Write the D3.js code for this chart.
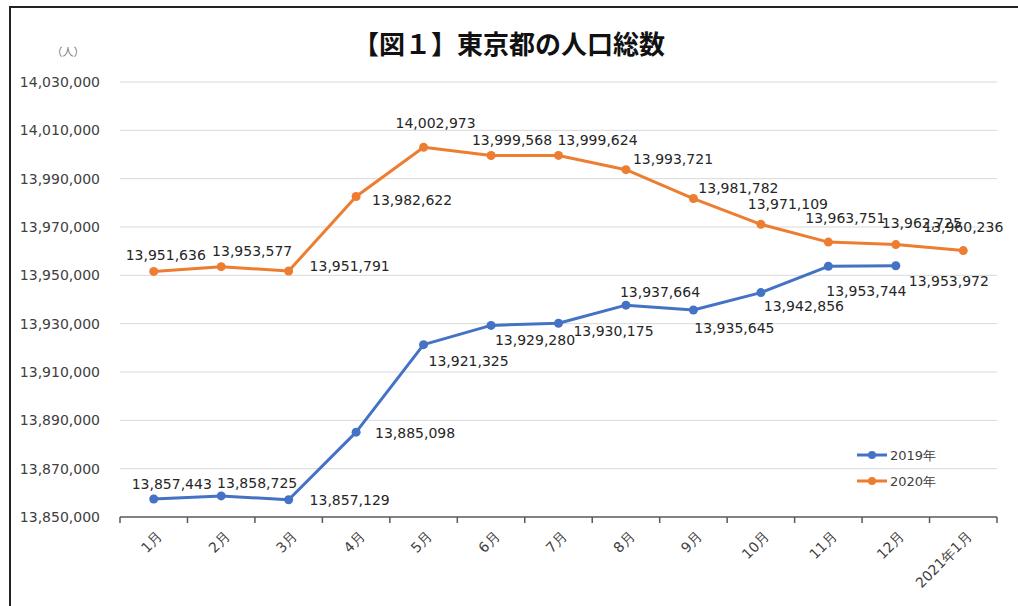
<!DOCTYPE html>
<html>
<head>
<meta charset="utf-8">
<script src="https://cdn.jsdelivr.net/npm/d3@7"></script>
<style>
  body { margin: 0; background: #fff; }
  svg { display: block; }
</style>
</head>
<body>
<svg id="chart" width="1018" height="606"></svg>
<script>
// categories and values
const months = ['1月', '2月', '3月', '4月', '5月', '6月', '7月', '8月', '9月', '10月', '11月', '12月', '2021年1月'];
const pop2019 = [13857443, 13858725, 13857129, 13885098, 13921325, 13929280, 13930175, 13937664, 13935645, 13942856, 13953744, 13953972];
const pop2020 = [13951636, 13953577, 13951791, 13982622, 14002973, 13999568, 13999624, 13993721, 13981782, 13971109, 13963751, 13962725, 13960236];
const yTicks = [13850000, 13870000, 13890000, 13910000, 13930000, 13950000, 13970000, 13990000, 14010000, 14030000];

// where each data label sits relative to its point (dx, dy of label centre)
const labelPos2019 = [[18, -15], [36, -13], [61, 0], [59, 1], [45, 16], [44, 15], [55, 8], [34, -13], [41, 18], [43, 14], [38, 25], [53, 15]];
const labelPos2020 = [[12, -16], [31, -16], [61, -5], [56, 4], [12, -24], [21, -15], [39, -15], [47, -11], [45, -10], [27, -20], [17, -24], [26, -21], [0, -23]];

const margin = { top: 82, right: 21, bottom: 89, left: 120 };
const W = 1018, H = 606;
const width = W - margin.left - margin.right;
const height = H - margin.top - margin.bottom;

const svg = d3.select('#chart');
const font = '"DejaVu Sans", Verdana, sans-serif';

// outer frame
svg.append('path')
  .attr('d', 'M10,606 L10,7 L1018,7')
  .attr('fill', 'none')
  .attr('stroke', '#222')
  .attr('stroke-width', 2);

svg.append('text')
  .attr('x', 509).attr('y', 54)
  .attr('text-anchor', 'middle')
  .style('font-family', '"Noto Sans CJK JP", sans-serif')
  .style('font-weight', 'bold')
  .style('font-size', '26px')
  .attr('fill', '#111')
  .text('【図１】東京都の人口総数');

svg.append('text')
  .attr('x', 68).attr('y', 56)
  .attr('text-anchor', 'middle')
  .style('font-family', '"Noto Sans CJK JP", sans-serif')
  .style('font-size', '11px')
  .attr('fill', '#777')
  .text('（人）');

const g = svg.append('g')
  .attr('transform', 'translate(' + margin.left + ',' + margin.top + ')');

const x = d3.scaleBand()
  .domain(months)
  .range([0, width]);

const y = d3.scaleLinear()
  .domain([13850000, 14030000])
  .range([height, 0]);

const fmt = d3.format(',');

// gridlines
g.append('g')
  .selectAll('line')
  .data(yTicks.slice(1))
  .enter().append('line')
  .attr('x1', 0).attr('x2', width)
  .attr('y1', function (d) { return y(d); })
  .attr('y2', function (d) { return y(d); })
  .attr('stroke', '#d9d9d9')
  .attr('stroke-width', 1);

// y axis labels (no line)
const yAxis = g.append('g')
  .call(d3.axisLeft(y).tickValues(yTicks).tickFormat(fmt).tickSize(0).tickPadding(20));
yAxis.select('.domain').remove();
yAxis.selectAll('text')
  .style('font-family', font)
  .style('font-size', '14px')
  .attr('fill', '#404040');

// x axis with ticks on band edges
const xg = g.append('g')
  .attr('transform', 'translate(0,' + height + ')');
xg.append('line')
  .attr('x1', 0).attr('x2', width)
  .attr('stroke', '#595959').attr('stroke-width', 1.5);
xg.selectAll('.tk')
  .data(months.concat(['end']))
  .enter().append('line')
  .attr('class', 'tk')
  .attr('x1', function (d, i) { return i * x.step(); })
  .attr('x2', function (d, i) { return i * x.step(); })
  .attr('y1', 0).attr('y2', 6)
  .attr('stroke', '#595959').attr('stroke-width', 1.5);
xg.selectAll('.lbl')
  .data(months)
  .enter().append('text')
  .attr('class', 'lbl')
  .attr('transform', function (d) { return 'translate(' + (x(d) + x.bandwidth() / 2 + 6) + ',17) rotate(-45)'; })
  .attr('text-anchor', 'end')
  .attr('dy', '0.35em')
  .style('font-family', font)
  .style('font-size', '14px')
  .attr('fill', '#404040')
  .text(function (d) { return d; });

const series = [
  { name: '2019年', values: pop2019, color: '#4472C4', pos: labelPos2019 },
  { name: '2020年', values: pop2020, color: '#ED7D31', pos: labelPos2020 }
];

const line = d3.line()
  .x(function (d, i) { return x(months[i]) + x.bandwidth() / 2; })
  .y(function (d) { return y(d); });

series.forEach(function (s) {
  g.append('path')
    .datum(s.values)
    .attr('fill', 'none')
    .attr('stroke', s.color)
    .attr('stroke-width', 3)
    .attr('stroke-linejoin', 'round')
    .attr('d', line);

  g.selectAll(null)
    .data(s.values)
    .enter().append('circle')
    .attr('cx', function (d, i) { return x(months[i]) + x.bandwidth() / 2; })
    .attr('cy', function (d) { return y(d); })
    .attr('r', 4.5)
    .attr('fill', s.color);

  g.selectAll(null)
    .data(s.values)
    .enter().append('text')
    .attr('x', function (d, i) { return x(months[i]) + x.bandwidth() / 2 + s.pos[i][0]; })
    .attr('y', function (d, i) { return y(d) + s.pos[i][1]; })
    .attr('text-anchor', 'middle')
    .attr('dy', '0.35em')
    .style('font-family', font)
    .style('font-size', '14px')
    .attr('fill', '#262626')
    .text(function (d) { return fmt(d); });
});

// legend
const legend = svg.append('g')
  .attr('transform', 'translate(857,455)');
series.forEach(function (s, i) {
  const row = legend.append('g').attr('transform', 'translate(0,' + (i * 26) + ')');
  row.append('line')
    .attr('x1', 0).attr('x2', 30)
    .attr('stroke', s.color).attr('stroke-width', 3);
  row.append('circle')
    .attr('cx', 15).attr('r', 4)
    .attr('fill', s.color);
  row.append('text')
    .attr('x', 33).attr('dy', '0.35em')
    .style('font-family', font)
    .style('font-size', '13px')
    .attr('fill', '#404040')
    .text(s.name);
});
</script>
</body>
</html>
